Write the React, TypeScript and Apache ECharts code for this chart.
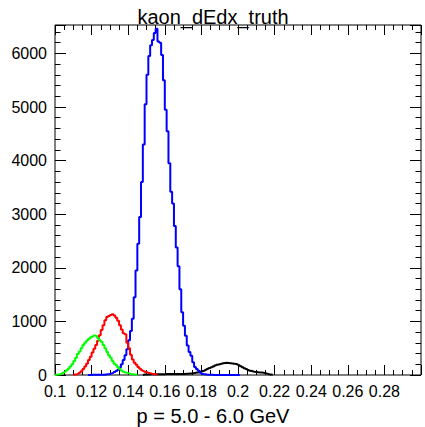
import React, { useEffect, useRef } from "react";
import * as echarts from "echarts";

const binWidth = 0.001;

const greenStart = 0.1;
const greenCounts = [
  5, 8, 15, 25, 40, 60, 90, 120, 160, 200, 260, 320, 390, 440, 500, 560, 600, 640, 670, 700,
  720, 735, 725, 690, 650, 620, 560, 500, 430, 370, 320, 260, 210, 180, 140, 110, 80, 60, 45, 35,
  25, 18, 12, 8, 5,
];

const redStart = 0.11;
const redCounts = [
  10, 15, 25, 40, 70, 110, 160, 210, 280, 340, 420, 490, 560, 640, 740, 840, 930, 1020, 1080, 1100,
  1120, 1135, 1110, 1070, 1010, 930, 850, 780, 760, 600, 500, 380, 290, 230, 190, 150, 115, 90, 70, 55,
  45, 35, 25, 20, 15, 10,
];

const blueStart = 0.118;
const blueCounts = [
  2, 2, 3, 3, 4, 4, 5,
  5, 5, 10, 15, 20, 30, 40, 55, 75, 100, 140, 200, 280, 370, 480, 650, 820, 1050, 1450, 1950, 2450, 2950,
  3600, 4300, 5050, 5600, 5950, 6150, 6250, 6380, 6460, 6220, 6200, 5970, 5500, 4950, 4550, 3950, 3420, 3200,
  2780, 2380, 2030, 1600, 1170, 920, 730, 550, 430, 360, 240, 150, 110, 80, 40, 20, 12, 8, 5, 3,
  3, 2, 2, 2, 2, 2, 2, 2, 2, 2, 2, 2, 2, 2, 2, 2,
];

const blackStart = 0.148;
const blackCounts = [
  8, 10, 10, 12, 12, 12, 14, 14, 15, 15, 16, 16, 17, 17, 18, 18, 18, 19, 19, 20, 20, 20, 20,
  25, 25, 30, 30, 35, 40, 45, 55, 65, 75, 85, 100, 115, 130, 145, 160, 175, 190, 200, 210, 220, 225, 230,
  225, 220, 215, 210, 205, 195, 180, 165, 145, 125, 110, 95, 80, 70, 60, 55, 50, 45, 45, 40, 35, 25, 15,
  10, 5,
];

const xMin = 0.1;
const xMax = 0.3;
const xMajor = 0.02;
const xMinor = 0.005;
const yMin = 0;
const yMax = 6530;
const yMajor = 1000;
const yMinor = 200;

const titleText = "kaon_dEdx_truth";
const xTitle = "p = 5.0 - 6.0 GeV";

function histData(start: number, counts: number[]) {
  const pts: number[][] = [[start, 0]];
  counts.forEach((c, i) => pts.push([+(start + i * binWidth).toFixed(4), c]));
  pts.push([+(start + counts.length * binWidth).toFixed(4), 0]);
  return pts;
}

const FONT = "'Liberation Sans', Arial, Helvetica, sans-serif";

export default function App() {
  const ref = useRef<HTMLDivElement>(null);
  useEffect(() => {
    const chart = echarts.init(ref.current!, null, { renderer: "svg" });
    const labelStyle = { fontFamily: FONT, fontSize: 16, color: "#000" };
    const mkX = (position: string, interval: number, len: number, labels: boolean) => ({
      type: "value",
      min: xMin,
      max: xMax,
      interval,
      position,
      axisLine: { show: false, onZero: false },
      axisTick: { show: true, inside: true, length: len, lineStyle: { color: "#000", width: 1 } },
      axisLabel: labels
        ? {
            show: true,
            margin: 8,
            ...labelStyle,
            formatter: (v: number) => (Math.abs(v - xMax) < 1e-9 ? "" : String(+v.toFixed(3))),
          }
        : { show: false },
      splitLine: { show: false },
    });
    const mkY = (position: string, interval: number, len: number, labels: boolean) => ({
      type: "value",
      min: yMin,
      max: yMax,
      interval,
      position,
      axisLine: { show: false, onZero: false },
      axisTick: { show: true, inside: true, length: len, lineStyle: { color: "#000", width: 1 } },
      axisLabel: labels
        ? {
            show: true,
            margin: 8,
            ...labelStyle,
            formatter: (v: number) => (v % yMajor === 0 ? String(v) : ""),
          }
        : { show: false },
      splitLine: { show: false },
    });
    const mkSeries = (name: string, start: number, counts: number[], color: string) => ({
      name,
      type: "line",
      step: "end",
      symbol: "none",
      data: histData(start, counts),
      lineStyle: { color, width: 2 },
      xAxisIndex: 0,
      yAxisIndex: 0,
    });
    chart.setOption({
      animation: false,
      backgroundColor: "#fff",
      grid: {
        left: 55,
        top: 25,
        right: 4,
        bottom: 52,
        show: true,
        borderColor: "#000",
        borderWidth: 1,
        backgroundColor: "transparent",
        outerBoundsMode: "none",
      },
      xAxis: [
        mkX("bottom", xMajor, 10, true),
        mkX("bottom", xMinor, 5, false),
        mkX("top", xMajor, 10, false),
        mkX("top", xMinor, 5, false),
      ],
      yAxis: [
        mkY("left", yMajor, 11, true),
        mkY("left", yMinor, 5.5, false),
        mkY("right", yMajor, 11, false),
        mkY("right", yMinor, 5.5, false),
      ],
      series: [
        mkSeries("black", blackStart, blackCounts, "#000000"),
        mkSeries("blue", blueStart, blueCounts, "#0000ff"),
        mkSeries("red", redStart, redCounts, "#ff0000"),
        mkSeries("green", greenStart, greenCounts, "#00ff00"),
      ],
      graphic: [
        {
          type: "text",
          x: 213,
          y: 17,
          style: {
            text: titleText,
            font: `20px ${FONT}`,
            fill: "#000",
            align: "center",
            verticalAlign: "middle",
          },
          z: 10,
        },
        {
          type: "text",
          x: 213,
          y: 416,
          style: {
            text: xTitle,
            font: `20px ${FONT}`,
            fill: "#000",
            align: "center",
            verticalAlign: "middle",
          },
        },
      ],
    });
    return () => chart.dispose();
  }, []);
  return (
    <div
      ref={ref}
      style={{ position: "fixed", left: 0, top: 0, width: 425, height: 427, background: "#fff" }}
    />
  );
}
